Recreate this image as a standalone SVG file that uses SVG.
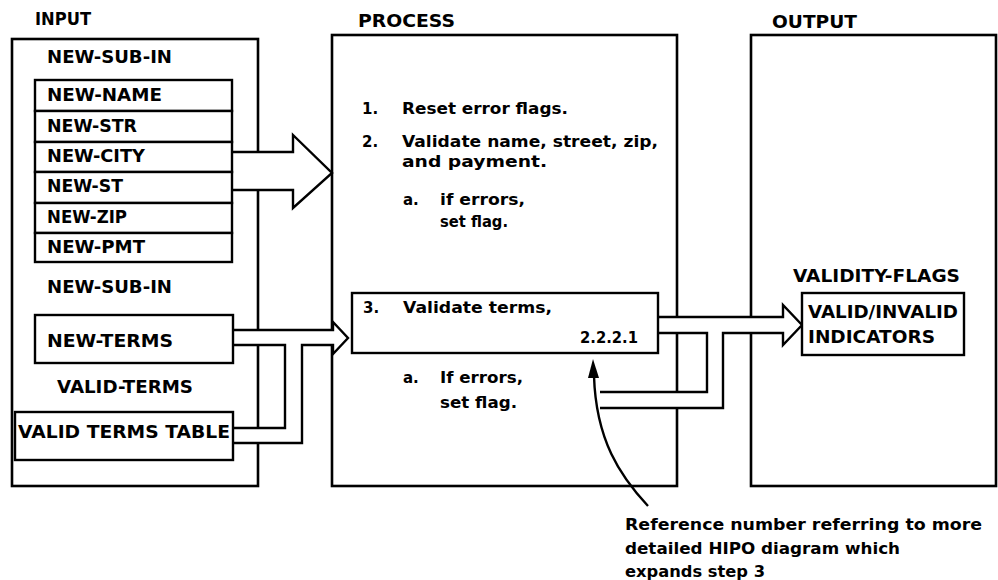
<svg xmlns="http://www.w3.org/2000/svg" width="998" height="580" viewBox="0 0 998 580">
<style>
  .panel { fill: #ffffff; stroke: #000000; stroke-width: 2.6; }
  .box { fill: #ffffff; stroke: #000000; stroke-width: 2.4; }
  .hollow { fill: #ffffff; stroke: none; }
  .line { fill: none; stroke: #000000; stroke-width: 2.4; stroke-linejoin: miter; }
  text { font-family: "DejaVu Sans", "Liberation Sans", sans-serif; font-weight: bold; fill: #000000; }
  .h { font-size: 17px; }
  .f { font-size: 17px; }
  .s { font-size: 15px; }
  .n { font-size: 16px; }
</style>
<rect width="998" height="580" fill="#ffffff"/>

<g id="input-panel">
  <text class="h" x="35" y="25" textLength="56" lengthAdjust="spacingAndGlyphs">INPUT</text>
  <rect class="panel" x="12" y="39" width="246" height="447"/>
  <text class="f" x="47" y="63" textLength="125" lengthAdjust="spacingAndGlyphs">NEW-SUB-IN</text>
  <text class="f" x="47" y="293" textLength="125" lengthAdjust="spacingAndGlyphs">NEW-SUB-IN</text>
  <text class="f" x="57" y="393" textLength="136" lengthAdjust="spacingAndGlyphs">VALID-TERMS</text>
</g>

<g id="process-panel">
  <text class="h" x="358" y="27" textLength="97" lengthAdjust="spacingAndGlyphs">PROCESS</text>
  <rect class="panel" x="332" y="35" width="345" height="451"/>
  <text class="s" x="362" y="114">1.</text>
  <text class="s" x="402" y="114" textLength="166" lengthAdjust="spacingAndGlyphs">Reset error flags.</text>
  <text class="s" x="362" y="147">2.</text>
  <text class="s" x="402" y="147" textLength="256" lengthAdjust="spacingAndGlyphs">Validate name, street, zip,</text>
  <text class="s" x="402" y="167" textLength="145" lengthAdjust="spacingAndGlyphs">and payment.</text>
  <text class="s" x="403" y="205">a.</text>
  <text class="s" x="440" y="205" textLength="85" lengthAdjust="spacingAndGlyphs">if errors,</text>
  <text class="s" x="440" y="227" textLength="68" lengthAdjust="spacingAndGlyphs">set flag.</text>
  <text class="s" x="403" y="383">a.</text>
  <text class="s" x="440" y="383" textLength="83" lengthAdjust="spacingAndGlyphs">If errors,</text>
  <text class="s" x="440" y="408" textLength="77" lengthAdjust="spacingAndGlyphs">set flag.</text>
</g>

<g id="output-panel">
  <text class="h" x="772" y="28" textLength="85" lengthAdjust="spacingAndGlyphs">OUTPUT</text>
  <rect class="panel" x="751" y="35" width="245" height="451"/>
  <text class="f" x="793" y="282" textLength="167" lengthAdjust="spacingAndGlyphs">VALIDITY-FLAGS</text>
</g>

<g id="connectors">
  <!-- NEW-SUB-IN fields to PROCESS -->
  <polygon class="hollow" points="232,152 293,152 293,135 332,173 293,208 293,190 232,190"/>
  <polyline class="line" points="232,152 293,152 293,135 332,173 293,208 293,190 232,190"/>
  <!-- NEW-TERMS + VALID TERMS TABLE to step 3 -->
  <polygon class="hollow" points="233,330 333,330 333,322 348,338 333,354 333,345 302,345 302,443 233,443 233,428 285,428 285,345 233,345"/>
  <polyline class="line" points="233,330 333,330 333,322 348,338 333,354 333,345 302,345 302,443 233,443"/>
  <polyline class="line" points="233,428 285,428 285,345 233,345"/>
  <!-- step 3 to VALID/INVALID INDICATORS -->
  <polygon class="hollow" points="658,317 783,317 783,305 802,325 783,345 783,333 723,333 723,408 600,408 600,392 707,392 707,333 658,333"/>
  <polyline class="line" points="658,317 783,317 783,305 802,325 783,345 783,333 723,333 723,408 600,408"/>
  <polyline class="line" points="600,392 707,392 707,333 658,333"/>
  <!-- annotation pointer -->
  <path class="line" d="M648,506 C620,476 596,440 594,376"/>
  <polygon points="593,359 588,378 599,378" fill="#000000"/>
</g>

<g id="new-name"><rect class="box" x="35" y="80" width="197" height="31"/><text class="f" x="47" y="101" textLength="115" lengthAdjust="spacingAndGlyphs">NEW-NAME</text></g>
<g id="new-str"><rect class="box" x="35" y="111" width="197" height="31"/><text class="f" x="47" y="132" textLength="90" lengthAdjust="spacingAndGlyphs">NEW-STR</text></g>
<g id="new-city"><rect class="box" x="35" y="142" width="197" height="30"/><text class="f" x="47" y="162" textLength="98" lengthAdjust="spacingAndGlyphs">NEW-CITY</text></g>
<g id="new-st"><rect class="box" x="35" y="172" width="197" height="31"/><text class="f" x="47" y="192" textLength="76" lengthAdjust="spacingAndGlyphs">NEW-ST</text></g>
<g id="new-zip"><rect class="box" x="35" y="203" width="197" height="30"/><text class="f" x="47" y="223" textLength="80" lengthAdjust="spacingAndGlyphs">NEW-ZIP</text></g>
<g id="new-pmt"><rect class="box" x="35" y="233" width="197" height="29"/><text class="f" x="47" y="253" textLength="98" lengthAdjust="spacingAndGlyphs">NEW-PMT</text></g>

<g id="new-terms"><rect class="box" x="35" y="315" width="198" height="48"/><text class="f" x="47" y="347" textLength="126" lengthAdjust="spacingAndGlyphs">NEW-TERMS</text></g>
<g id="valid-terms-table"><rect class="box" x="15" y="412" width="218" height="48"/><text class="f" x="18" y="438" textLength="212" lengthAdjust="spacingAndGlyphs">VALID TERMS TABLE</text></g>

<g id="step-3"><rect class="box" x="352" y="293" width="306" height="60"/>
  <text class="s" x="363" y="313">3.</text>
  <text class="s" x="403" y="313" textLength="149" lengthAdjust="spacingAndGlyphs">Validate terms,</text>
  <text class="s" x="580" y="343" textLength="58" lengthAdjust="spacingAndGlyphs">2.2.2.1</text>
</g>

<g id="valid-invalid"><rect class="box" x="802" y="293" width="162" height="62"/>
  <text class="f" x="808" y="318" textLength="150" lengthAdjust="spacingAndGlyphs">VALID/INVALID</text>
  <text class="f" x="808" y="343" textLength="127" lengthAdjust="spacingAndGlyphs">INDICATORS</text>
</g>

<g id="note">
  <text class="n" x="625" y="530" textLength="357" lengthAdjust="spacingAndGlyphs">Reference number referring to more</text>
  <text class="n" x="625" y="554" textLength="275" lengthAdjust="spacingAndGlyphs">detailed HIPO diagram which</text>
  <text class="n" x="625" y="577" textLength="140" lengthAdjust="spacingAndGlyphs">expands step 3</text>
</g>
</svg>
